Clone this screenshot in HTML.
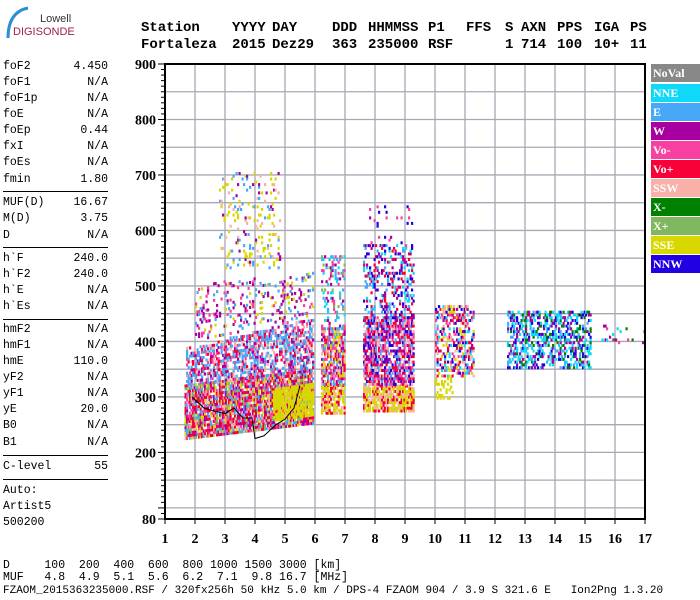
<!DOCTYPE html>
<html><head><meta charset="utf-8">
<style>
body{margin:0;background:#fff;width:700px;height:600px;overflow:hidden;position:relative;font-family:"Liberation Mono",monospace}
.hd{position:absolute;font:bold 14px "Liberation Mono",monospace;color:#000;white-space:pre}
.lp{position:absolute;left:3px;width:105px;font:11.5px "Liberation Mono",monospace;color:#000}
.lp span{position:absolute;right:0}
.sep{position:absolute;left:3px;width:105px;height:1px;background:#000}
.bt{position:absolute;left:3px;font:11.5px "Liberation Mono",monospace;white-space:pre;color:#000}
.lg{position:absolute;left:651px;width:49px;height:18px;color:#fff;font:bold 12px "Liberation Serif",serif;line-height:19px;padding-left:2px;box-sizing:border-box}
</style></head><body>
<svg style="position:absolute;left:0;top:0" width="90" height="45">
<path d="M28 8 Q8 12 8 38" stroke="#2a8fd0" stroke-width="3" fill="none"/>
<text x="40" y="22" font-family="Liberation Sans,sans-serif" font-size="11" fill="#333">Lowell</text>
<text x="13" y="35" font-family="Liberation Sans,sans-serif" font-size="11" fill="#a0204a">DIGISONDE</text>
</svg>
<div>
<div class="hd" style="left:141px;top:20px">Station</div><div class="hd" style="left:232px;top:20px">YYYY</div><div class="hd" style="left:272px;top:20px">DAY</div><div class="hd" style="left:332px;top:20px">DDD</div><div class="hd" style="left:368px;top:20px">HHMMSS</div><div class="hd" style="left:428px;top:20px">P1</div><div class="hd" style="left:466px;top:20px">FFS</div><div class="hd" style="left:505px;top:20px">S</div><div class="hd" style="left:521px;top:20px">AXN</div><div class="hd" style="left:557px;top:20px">PPS</div><div class="hd" style="left:594px;top:20px">IGA</div><div class="hd" style="left:630px;top:20px">PS</div>
</div>
<div>
<div class="hd" style="left:141px;top:37px">Fortaleza</div><div class="hd" style="left:232px;top:37px">2015</div><div class="hd" style="left:272px;top:37px">Dez29</div><div class="hd" style="left:332px;top:37px">363</div><div class="hd" style="left:368px;top:37px">235000</div><div class="hd" style="left:428px;top:37px">RSF</div><div class="hd" style="left:505px;top:37px">1</div><div class="hd" style="left:521px;top:37px">714</div><div class="hd" style="left:557px;top:37px">100</div><div class="hd" style="left:594px;top:37px">10+</div><div class="hd" style="left:630px;top:37px">11</div>
</div>
<div id="lpanel"></div>
<svg id="chart" style="position:absolute;left:0;top:0" width="700" height="560"></svg>
<div>
<div class="lg" style="top:64px;background:#888">NoVal</div>
<div class="lg" style="top:84px;background:#10d8f8">NNE</div>
<div class="lg" style="top:103px;background:#48a8f8">E</div>
<div class="lg" style="top:122px;background:#a800a0">W</div>
<div class="lg" style="top:141px;background:#f840a0">Vo-</div>
<div class="lg" style="top:160px;background:#f80038">Vo+</div>
<div class="lg" style="top:179px;background:#f8b0a8">SSW</div>
<div class="lg" style="top:198px;background:#008000">X-</div>
<div class="lg" style="top:217px;background:#80b860">X+</div>
<div class="lg" style="top:236px;background:#d8d800">SSE</div>
<div class="lg" style="top:255px;background:#2000e0">NNW</div>
</div>
<div class="bt" style="top:559px">D     100  200  400  600  800 1000 1500 3000 [km]</div>
<div class="bt" style="top:571px">MUF   4.8  4.9  5.1  5.6  6.2  7.1  9.8 16.7 [MHz]</div>
<div class="bt" style="top:585px;font-size:11px">FZAOM_2015363235000.RSF / 320fx256h 50 kHz 5.0 km / DPS-4 FZAOM 904 / 3.9 S 321.6 E   Ion2Png 1.3.20</div>
<script>
const pLabels=["foF2","foF1","foF1p","foE","foEp","fxI","foEs","fmin","MUF(D)","M(D)","D","h`F","h`F2","h`E","h`Es","hmF2","hmF1","hmE","yF2","yF1","yE","B0","B1","C-level"];
const pValues=["4.450","N/A","N/A","N/A","0.44","N/A","N/A","1.80","16.67","3.75","N/A","240.0","240.0","N/A","N/A","N/A","N/A","110.0","N/A","N/A","20.0","N/A","N/A","55"];
const pY=[60,76,92,108,124,140,156,173,196,212,229,252,268,284,300,323,339,355,371,387,403,419,436,460];
const sepY=[191,247,319,455,479];
const lp=document.getElementById('lpanel');
for(let i=0;i<pLabels.length;i++){
  const d=document.createElement('div');d.className='lp';d.style.top=pY[i]+'px';
  
  
  d.innerHTML=pLabels[i]+'<span>'+pValues[i]+'</span>';lp.appendChild(d);
}
for(const y of sepY){const s=document.createElement('div');s.className='sep';s.style.top=y+'px';
  
  
  lp.appendChild(s);}
const autoT=["Auto:","Artist5","500200"];
autoT.forEach((t,i)=>{const d=document.createElement('div');d.className='lp';d.style.top=(484+i*16)+'px';d.textContent=t;
  
  
  lp.appendChild(d);});

const xTicks=[1,2,3,4,5,6,7,8,9,10,11,12,13,14,15,16,17];
const yTicks=[80,200,300,400,500,600,700,800,900];
const bandF0=[1.65,1.7,2.0,2.8,4.6,6.2,6.2,6.2,7.6,7.6,7.6,7.8,10.0,10.0,12.4,15.5];
const bandF1=[5.9,5.9,5.9,4.8,5.9,6.95,6.95,6.95,9.3,9.3,9.3,9.3,10.6,11.3,15.2,17.0];
const bandLoA=[222,320,400,530,255,268,320,420,272,320,440,570,295,335,350,395];
const bandLoB=[250,345,440,530,265,268,320,420,272,320,440,570,295,335,350,395];
const bandHiA=[320,385,500,700,310,320,420,550,320,440,570,640,330,460,450,425];
const bandHiB=[350,440,520,700,320,320,420,550,320,440,570,640,330,460,450,425];
const bandDensity=[0.85,0.55,0.18,0.12,0.75,0.75,0.7,0.25,0.75,0.7,0.3,0.05,0.3,0.45,0.45,0.1];
const bandMix=["red,red,vo-,w,x+,ssw,sse,e","e,e,e,w,vo-,red,ssw","w,w,e,vo-,sse","sse,sse,ssw,w,e","sse","sse,sse,red,ssw","red,vo-,ssw,w,e,sse","e,w,vo-,nne,x+","sse,sse,ssw,red","red,vo-,ssw,w,nnw,e","nnw,nne,w,red,e","nnw,w,vo-","sse","nnw,ssw,vo-,sse,w,nne,red","nne,nne,nnw,e,w,x-","x-,vo-,w,nne"];
const traceF=[1.9,2.3,2.6,3.0,3.3,3.6,3.9,4.0,4.3,4.7,5.0,5.3,5.5];
const traceH=[300,280,275,270,280,262,262,225,230,250,260,280,320];
const colors={"noval":"#888888","nne":"#10d8f8","e":"#48a8f8","w":"#a800a0","vo-":"#f840a0","red":"#f80038","ssw":"#f8b0a8","x-":"#008000","x+":"#80b860","sse":"#d8d800","nnw":"#2000e0"};

const X=f=>165+(f-1)*30;
const Y=h=>519-(h-80)*0.5549;
const svg=document.getElementById('chart');
const NS='http://www.w3.org/2000/svg';
function mk(tag,attrs){const e=document.createElementNS(NS,tag);for(const k in attrs)e.setAttribute(k,attrs[k]);svg.appendChild(e);return e;}
for(let f=2;f<=16;f++){const l=mk('line',{x1:X(f),x2:X(f),y1:Y(900),y2:Y(80),stroke:'#a8a8b4','stroke-width':1.3});
  
  }
for(let h=100;h<900;h+=50){const l=mk('line',{x1:X(1),x2:X(17),y1:Y(h),y2:Y(h),stroke:'#a8a8b4','stroke-width':1.3});
  
  }
// integer hash for texture (rendering only)
function hs(i,j,k){let x=(i*374761393+j*668265263+k*2147483647)|0;x=Math.imul(x^(x>>>13),1274126177);x=x^(x>>>16);return (x>>>0)/4294967296;}
const g=document.createElementNS(NS,'g');svg.appendChild(g);


for(let b=0;b<bandF0.length;b++){
  const mix=bandMix[b].split(',');
  for(let f=bandF0[b];f<=bandF1[b];f+=0.05){
    const t=(f-bandF0[b])/Math.max(0.01,bandF1[b]-bandF0[b]);
    const lo=bandLoA[b]+(bandLoB[b]-bandLoA[b])*t, hi=bandHiA[b]+(bandHiB[b]-bandHiA[b])*t;
    for(let h=lo;h<=hi;h+=5){
      const fi=Math.round(f*20), hi5=Math.round(h/5);
      if(hs(fi,hi5,b+1)>bandDensity[b])continue;
      const c=mix[Math.floor(hs(fi+911,hi5+77,b+31)*mix.length)];
      const r=document.createElementNS(NS,'rect');
      r.setAttribute('x',X(f).toFixed(1));r.setAttribute('y',(Y(h)-3).toFixed(1));
      r.setAttribute('width',2.2);r.setAttribute('height',3);r.setAttribute('fill',colors[c]);
      g.appendChild(r);
    }
  }
}
const tr=mk('polyline',{points:traceF.map((f,i)=>X(f)+','+Y(traceH[i])).join(' '),fill:'none',stroke:'#000','stroke-width':1});


const fr=mk('path',{d:`M${X(1)} ${Y(900)} H${X(17)} V${Y(80)} H${X(1)} Z`,fill:'none',stroke:'#000','stroke-width':2});


for(let h=80;h<=900;h+=10){const major=(h%100===0)||h===80;mk('line',{x1:X(1)-(major?7:4),x2:X(1),y1:Y(h),y2:Y(h),stroke:'#000','stroke-width':1});}
for(const h of yTicks){const t=mk('text',{x:156,y:Y(h)+5,'text-anchor':'end','font-family':'Liberation Serif,serif','font-weight':'bold','font-size':14});t.textContent=h;
  
  }
for(const f of xTicks){mk('line',{x1:X(f),x2:X(f),y1:Y(80),y2:Y(80)+5,stroke:'#000','stroke-width':1});
  const t=mk('text',{x:X(f),y:543,'text-anchor':'middle','font-family':'Liberation Serif,serif','font-weight':'bold','font-size':14});t.textContent=f;
  
  }
</script>
</body></html>
